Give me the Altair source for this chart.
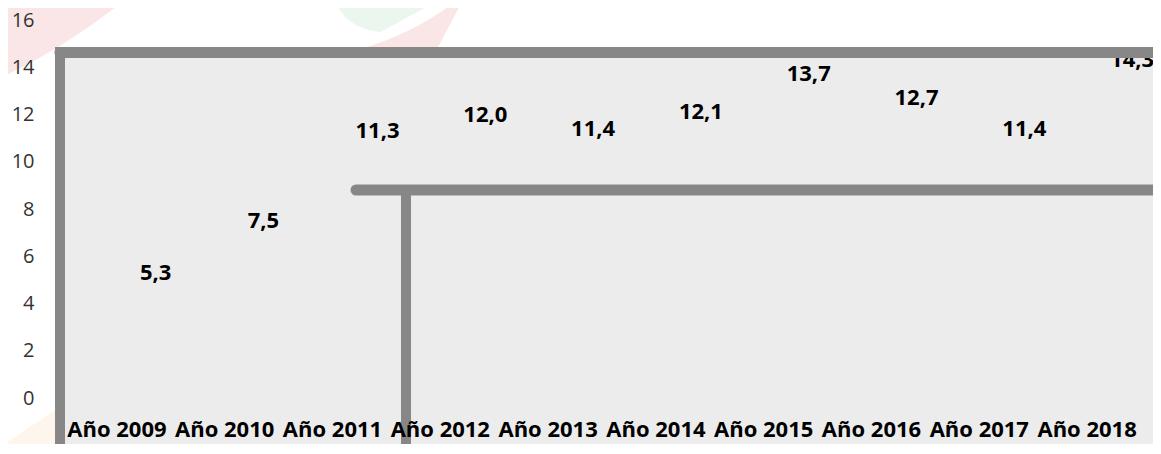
import altair as alt
import pandas as pd

years = ["Año 2009", "Año 2010", "Año 2011", "Año 2012", "Año 2013",
         "Año 2014", "Año 2015", "Año 2016", "Año 2017", "Año 2018"]
values = [5.3, 7.5, 11.3, 12.0, 11.4, 12.1, 13.7, 12.7, 11.4, 14.3]
labels = ["5,3", "7,5", "11,3", "12,0", "11,4", "12,1", "13,7", "12,7", "11,4", "14,3"]

df = pd.DataFrame({"year": years, "value": values, "label": labels})
one = alt.Data(values=[{"k": 1}])

FONT = "Open Sans"
FRAME = "#878787"

x_enc = alt.X("year:N", sort=years, title=None,
              scale=alt.Scale(paddingInner=0, paddingOuter=0),
              axis=alt.Axis(labelAngle=0, labelFont=FONT, labelFontSize=22,
                            labelFontWeight="bold", labelColor="#000000",
                            labelPadding=21, ticks=False, tickSize=0,
                            domain=False, zindex=2, labelOverlap=False))
y_enc = alt.Y("value:Q", title=None,
              scale=alt.Scale(domain=[0, 16], nice=False),
              axis=alt.Axis(values=[0, 2, 4, 6, 8, 10, 12, 14, 16], labelFont=FONT,
                            labelFontSize=20, labelColor="#333333", labelPadding=29,
                            ticks=False, tickSize=0, domain=False, grid=False, zindex=2))

# decorative background shapes (outside the plot area)
pink_corner = alt.Chart(one).mark_point(
    shape="M-1,-0.624 L1,-0.624 Q0.016,0.16 -1,0.624 Z",
    filled=True, opacity=1, strokeWidth=0, color="#fbe6e7", size=15625).encode(
    x=alt.value(-0.5), y=alt.value(19))
green_leaf = alt.Chart(one).mark_point(
    shape="M-1,-0.305 Q-0.81,0.229 -0.143,0.305 L1,-0.305 Z",
    filled=True, opacity=1, strokeWidth=0, color="#eaf6ee", size=11025).encode(
    x=alt.value(324.5), y=alt.value(-4))
pink_wedge = alt.Chart(one).mark_point(
    shape="M-1,0.49 Q0.104,0.135 0.875,-0.49 L1,-0.49 L0.479,0.49 Z",
    filled=True, opacity=1, strokeWidth=0, color="#fbe6e7", size=9216).encode(
    x=alt.value(352), y=alt.value(3.5))
orange_wedge = alt.Chart(one).mark_point(
    shape="M-1,0.545 L1,-0.8 L1,1 L-1,1 Z",
    filled=True, opacity=1, strokeWidth=0, color="#fef6ec", size=3025).encode(
    x=alt.value(-35.5), y=alt.value(412))

bg = alt.Chart(one).mark_rect(color="#ececec").encode(
    x=alt.value(-8), x2=alt.value(1100), y=alt.value(27), y2=alt.value(426))

base = alt.Chart(df).mark_bar(opacity=0).encode(x=x_enc, y=y_enc)

text = alt.Chart(df).mark_text(font=FONT, fontSize=22, fontWeight="bold",
                               color="#000000", dx=23, align="left",
                               baseline="middle").encode(
    x=alt.X("year:N", sort=years), y="value:Q", text="label:N")

rule_style = dict(color=FRAME, strokeWidth=11, strokeCap="round")
top_bar = alt.Chart(one).mark_rule(**rule_style).encode(
    x=alt.value(-3), x2=alt.value(1110), y=alt.value(32.5), y2=alt.value(32.5))
left_bar = alt.Chart(one).mark_rule(color=FRAME, strokeWidth=10).encode(
    x=alt.value(-3), x2=alt.value(-3), y=alt.value(27), y2=alt.value(430))
inner_h = alt.Chart(one).mark_rule(**rule_style).encode(
    x=alt.value(293), x2=alt.value(1110), y=alt.value(170), y2=alt.value(170))
inner_v = alt.Chart(one).mark_rule(color=FRAME, strokeWidth=10).encode(
    x=alt.value(343), x2=alt.value(343), y=alt.value(165), y2=alt.value(430))

chart = alt.layer(pink_corner, green_leaf, pink_wedge, orange_wedge, bg, base, text,
                  top_bar, left_bar, inner_h, inner_v).properties(
    width=1078, height=378,
    background="#ffffff",
    autosize=alt.AutoSizeParams(type="none"),
    padding={"left": 55, "top": 12, "right": 12, "bottom": 46},
).configure_view(stroke="transparent", strokeWidth=0)

chart.save("out.html", embed_options={"renderer": "svg", "actions": False})
